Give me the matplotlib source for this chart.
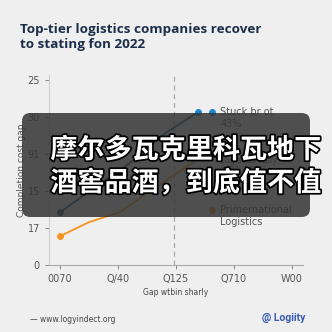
import matplotlib.pyplot as plt
from matplotlib.patches import FancyBboxPatch
import matplotlib.patheffects as pe

# categories / tick labels
quarters = ["0070", "Q/40", "Q125", "Q710", "W00"]
y_labels = ["0", "17", "15", "91", "30", "25"]

# series (x on quarter index, y on tick index)
blue_x = [0, 1.2, 1.82, 2.38]
blue_y = [1.43, 2.76, 3.57, 4.14]
orange_x = [0, 0.5, 1.03, 2.29]
orange_y = [0.78, 1.16, 1.43, 2.78]

bg = "#efefef"
fig = plt.figure(figsize=(3.32, 3.32), dpi=100, facecolor=bg)
ax = fig.add_axes([0.1476, 0.2018, 0.765, 0.572], facecolor=bg)

ax.plot(blue_x, blue_y, color="#24577f", lw=1.3, zorder=3)
ax.plot(blue_x[0], blue_y[0], "o", color="#1f4e72", ms=4, zorder=4)
ax.plot(blue_x[-1], blue_y[-1], "o", color="#1b86d1", ms=4, zorder=4)
ax.plot(orange_x, orange_y, color="#f7941d", lw=1.3, zorder=3)
ax.plot(orange_x[0], orange_y[0], "o", color="#f7941d", ms=4, zorder=4)

ax.axvline(1.97, color="#aaaaaa", lw=0.9, ls=(0, (4, 3)), zorder=1)

ax.set_xlim(-0.19, 4.19)
ax.set_ylim(0, 5.14)
ax.set_xticks(range(len(quarters)))
ax.set_xticklabels(quarters)
ax.set_yticks(range(len(y_labels)))
ax.set_yticklabels(y_labels)
ax.tick_params(colors="#888888", labelcolor="#555555", labelsize=7, length=3, width=0.7)
for s in ["top", "right"]:
    ax.spines[s].set_visible(False)
ax.spines["left"].set_color("#cccccc")
ax.spines["bottom"].set_color("#aaaaaa")
ax.set_xlabel("Gap wtbin sharly", fontsize=5.5, color="#444444", labelpad=3)
ax.set_ylabel("Completion cost gap", fontsize=6.5, color="#555555", labelpad=1)

# inline legend
ax.plot(2.62, 4.14, "o", color="#1b86d1", ms=4, clip_on=False)
ax.text(2.76, 4.28, "Stuck br ot\n43%", fontsize=7, color="#555555", va="top",
        linespacing=1.3)
ax.text(2.76, 2.95, "Logistics rally\n©Q1 2025", fontsize=6, color="#555555",
        va="top", linespacing=1.2)
ax.plot(2.62, 1.49, "o", color="#f7941d", ms=4, clip_on=False)
ax.text(2.76, 1.63, "Primernational\nLogistics", fontsize=7, color="#555555",
        va="top", linespacing=1.3)

fig.text(0.06, 0.93, "Top-tier logistics companies recover\nto stating fon 2022",
         fontsize=9.7, fontweight="bold", color="#1c2e4a", va="top",
         family="Open Sans", linespacing=1.15)

fig.text(0.09, 0.039, "— www.logyindect.org", fontsize=5.5, color="#444444", va="center")
fig.text(0.919, 0.042, "@ Logiity", fontsize=7.5, fontweight="bold", color="#3a5bb0",
         va="center", ha="right", family="Roboto")

# overlay banner
banner = FancyBboxPatch((22 / 332, 1 - 217 / 332), 288 / 332, 104 / 332,
                        boxstyle="round,pad=0,rounding_size=0.025",
                        transform=fig.transFigure, facecolor="#333333",
                        alpha=0.85, edgecolor="none", zorder=10)
fig.patches.append(banner)
for txt, yy in [("摩尔多瓦克里科瓦地下", 150), ("酒窖品酒，到底值不值", 183)]:
    fig.text(186 / 332, 1 - yy / 332, txt, fontsize=19.5, fontweight="bold",
             color="white", ha="center", va="center", zorder=11,
             family=["Noto Sans CJK SC", "DejaVu Sans"],
             path_effects=[pe.withStroke(linewidth=2.5, foreground="black")])

fig.savefig("out.png", dpi=100, facecolor=bg)
